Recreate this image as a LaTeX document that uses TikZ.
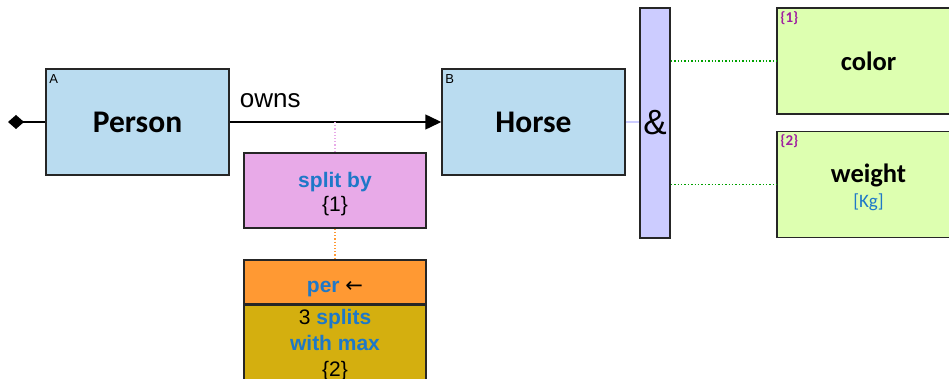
\documentclass[tikz,border=0pt]{standalone}
\usepackage{fontspec}
\setmainfont{Liberation Sans}
\newfontfamily\calibri{Carlito}
\newfontfamily\arrowfont{DejaVu Sans}
\usetikzlibrary{arrows.meta}

\definecolor{entityblue}{RGB}{186,220,240}
\definecolor{attrgreen}{RGB}{221,255,176}
\definecolor{andlilac}{RGB}{204,204,255}
\definecolor{splitpink}{RGB}{232,170,232}
\definecolor{perorange}{RGB}{255,153,51}
\definecolor{splitsgold}{RGB}{212,175,15}
\definecolor{kwblue}{RGB}{30,120,200}
\definecolor{tagpurple}{RGB}{160,32,160}
\definecolor{dotgreen}{RGB}{0,160,0}

\newcommand{\kw}[1]{{\color{kwblue}\bfseries #1}}

\tikzset{
  entity/.style={draw=black!85, line width=1.5pt, fill=entityblue, minimum width=183pt,
    minimum height=106pt, inner sep=0pt, font=\calibri\bfseries\fontsize{31.5}{36}\selectfont},
  attrbox/.style={entity, fill=attrgreen, align=center, font=\calibri\bfseries\fontsize{26.5}{25}\selectfont},
  tag/.style={anchor=north west, inner sep=0pt, font=\fontsize{13}{13}\selectfont},
  numtag/.style={tag, text=tagpurple, font=\calibri\bfseries\fontsize{15}{15}\selectfont},
  opbox/.style={draw=black!85, line width=1.5pt, minimum width=182pt, inner sep=0pt,
    align=center, font=\fontsize{21}{24}\selectfont},
}

\begin{document}
\begin{tikzpicture}[x=1pt, y=-1pt]
    \clip (0,0) rectangle (949,379);

    % Entities
    \node[entity] (person) at (137.5,122) {Person};
    \node[tag] (personTag) at ([xshift=4pt,yshift=-6pt]person.north west) {A};
    \node[entity] (horse) at (533.5,122) {Horse};
    \node[tag] (horseTag) at ([xshift=4pt,yshift=-6pt]horse.north west) {B};

    % And bar
    \node[draw=black!85, line width=1.5pt, fill=andlilac, minimum width=30pt, minimum height=230pt,
      inner sep=0pt, font=\fontsize{35}{35}\selectfont] (andbar) at (655,123) {\&};

    % Attributes
    \node[attrbox] (color) at (868.5,61) {color};
    \node[numtag] (colorTag) at ([xshift=4pt,yshift=-4pt]color.north west) {\{1\}};
    \node[attrbox] (weight) at (868.5,184.5) {\rule{0pt}{25pt}weight\\{\fontsize{19}{25}\selectfont\mdseries\color{kwblue}[Kg]}};
    \node[numtag] (weightTag) at ([xshift=4pt,yshift=-4pt]weight.north west) {\{2\}};

    % Split boxes
    \node[opbox, fill=splitpink, minimum height=75pt] (split) at (335,190.5) {\rule{0pt}{23pt}\kw{split by}\\\{1\}};
    \node[opbox, fill=perorange, minimum height=44pt] (per) at (335,282) {\rule{0pt}{25pt}\kw{per} {\arrowfont ←}};
    \node[opbox, fill=splitsgold, inner ysep=4pt, anchor=north, font=\fontsize{21}{26}\selectfont]
      (splits) at (per.south) {3 \kw{splits}\\\kw{with max}\\\{2\}\\[2pt]};

    % Connectors
    \coordinate (root) at (8,122);
    \draw[line width=1.5pt, {Diamond[length=16pt,width=14pt]}-] (root) -- (person.west);
    \draw[line width=1.5pt, -{Triangle[length=16pt,width=15pt]}] (person.east) --
      node[pos=0, anchor=base west, xshift=6pt, yshift=14pt, font=\fontsize{26}{26}\selectfont] (ownsLabel) {owns}
      (horse.west);
    \draw[splitpink, line width=1.2pt, dotted] (split.north |- person.east) -- (split.north);
    \draw[perorange, line width=1.2pt, dotted] (split.south) -- (per.north);
    \draw[andlilac, line width=2pt] (horse.east) -- (horse.east -| andbar.west);
    \draw[dotgreen, line width=1.4pt, dotted] (andbar.east |- color.west) -- (color.west);
    \draw[dotgreen, line width=1.4pt, dotted] (andbar.east |- weight.west) -- (weight.west);
\end{tikzpicture}
\end{document}
